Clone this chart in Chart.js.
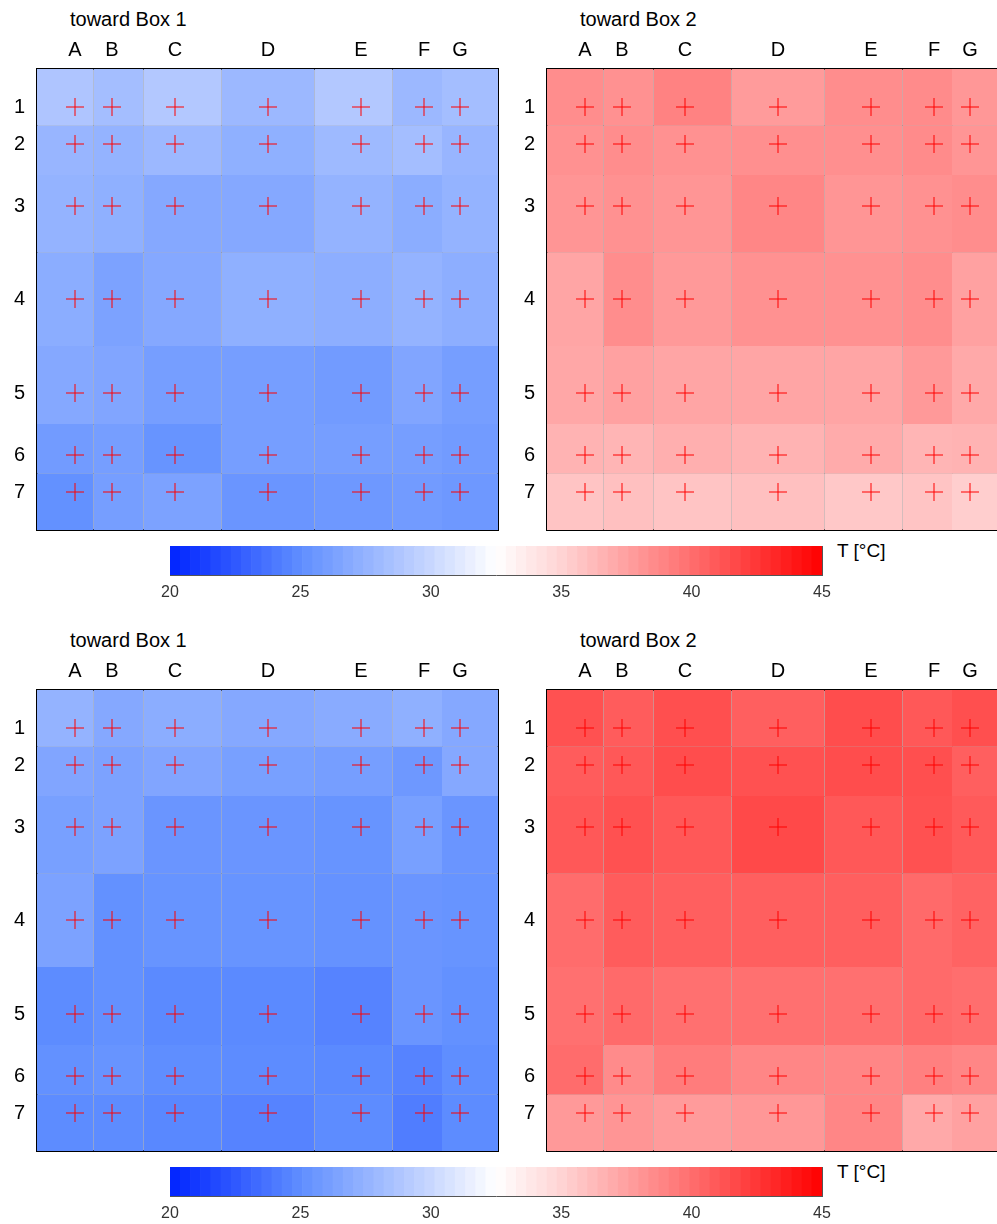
<!DOCTYPE html>
<html>
<head>
<meta charset="utf-8">
<script src="https://cdn.jsdelivr.net/npm/chart.js@4.4.1/dist/chart.umd.min.js"></script>
<style>
  html, body { margin: 0; padding: 0; width: 997px; height: 1224px; overflow: hidden; background: #fff; }
  body { position: relative; font-family: Arial, 'Liberation Sans', sans-serif; }
  canvas { position: absolute; }
  .title { position: absolute; font-size: 20px; line-height: 23px; color: #000; white-space: nowrap; }
  .unit { position: absolute; font-size: 19px; line-height: 22px; color: #000; white-space: nowrap; }
</style>
</head>
<body>
<div class="title" style="left:70px;top:8px">toward Box 1</div>
<div class="title" style="left:580px;top:8px">toward Box 2</div>
<div class="title" style="left:70px;top:629px">toward Box 1</div>
<div class="title" style="left:580px;top:629px">toward Box 2</div>
<div class="unit" style="left:837px;top:540px">T [°C]</div>
<div class="unit" style="left:837px;top:1161px">T [°C]</div>

<canvas id="topBox1" width="500" height="533" style="left:0;top:0"></canvas>
<canvas id="topBox2" width="500" height="533" style="left:510px;top:0"></canvas>
<canvas id="topBar" width="720" height="70" style="left:150px;top:536px"></canvas>
<canvas id="bottomBox1" width="500" height="533" style="left:0;top:621px"></canvas>
<canvas id="bottomBox2" width="500" height="533" style="left:510px;top:621px"></canvas>
<canvas id="bottomBar" width="720" height="70" style="left:150px;top:1157px"></canvas>

<script>
// sensor grid: columns A-G, rows 1-7, positions inside a 461-unit square box
const columns = ['A', 'B', 'C', 'D', 'E', 'F', 'G'];
const rows = ['1', '2', '3', '4', '5', '6', '7'];
const colPos = [38, 75, 138, 231, 324, 387, 423];
const rowPos = [38, 75, 137, 230, 324, 386, 423];
const boxSize = 461;

// temperatures [°C], one row per sensor row (1..7), columns A..G
const tempTopBox1 = [
  [28.8, 28.3, 29.0, 27.9, 29.0, 27.9, 28.3],
  [27.7, 27.5, 27.9, 27.3, 28.0, 28.3, 27.7],
  [27.5, 27.3, 26.8, 26.8, 27.5, 27.1, 27.5],
  [27.1, 26.4, 26.8, 27.3, 27.2, 27.5, 27.2],
  [26.8, 26.6, 26.1, 26.1, 25.9, 26.6, 26.1],
  [25.9, 26.1, 25.4, 26.1, 26.1, 26.1, 25.9],
  [25.2, 26.1, 26.4, 25.5, 25.7, 25.9, 25.7]
];
const tempTopBox2 = [
  [38.5, 38.3, 39.0, 37.8, 38.5, 38.6, 38.0],
  [38.3, 38.5, 38.3, 38.4, 38.4, 38.6, 38.1],
  [38.1, 38.3, 38.1, 38.8, 38.1, 38.3, 38.5],
  [37.3, 38.5, 37.9, 38.3, 38.3, 38.5, 37.5],
  [37.2, 37.5, 37.3, 37.3, 37.3, 37.9, 37.1],
  [36.6, 36.5, 36.8, 36.6, 37.0, 36.5, 36.6],
  [35.8, 36.0, 35.8, 36.0, 35.6, 35.8, 35.3]
];
const tempBottomBox1 = [
  [27.5, 26.8, 27.1, 26.8, 27.0, 27.3, 26.8],
  [26.6, 26.4, 26.6, 26.2, 26.1, 25.7, 26.8],
  [26.2, 26.4, 25.5, 25.5, 25.4, 26.2, 25.5],
  [26.4, 25.2, 25.4, 25.4, 25.3, 25.5, 25.4],
  [24.9, 25.2, 24.8, 24.8, 24.5, 25.5, 25.2],
  [25.2, 25.4, 25.0, 24.9, 24.8, 24.5, 25.0],
  [24.9, 24.9, 24.7, 24.5, 24.9, 24.2, 24.9]
];
const tempBottomBox2 = [
  [41.3, 40.8, 41.4, 40.7, 41.5, 41.0, 41.4],
  [40.8, 41.0, 41.5, 41.3, 41.5, 41.4, 40.7],
  [41.0, 41.3, 41.0, 41.7, 41.0, 41.3, 40.9],
  [40.1, 40.8, 40.7, 40.7, 40.7, 40.2, 40.5],
  [39.9, 40.2, 39.9, 39.9, 39.9, 40.2, 40.0],
  [40.1, 38.6, 39.3, 38.8, 38.8, 39.1, 38.8],
  [37.9, 38.1, 37.8, 38.0, 38.8, 37.1, 37.5]
];

// colour scale
const barTicks = [20, 25, 30, 35, 40, 45];
const cmapTemps = [20, 25, 30, 32.5, 35, 40, 45];
const cmapColors = [[0, 35, 255], [95, 142, 255], [200, 215, 255], [255, 255, 255],
                    [255, 212, 212], [255, 110, 110], [255, 0, 0]];
const barSteps = 64;

Chart.defaults.font.family = "Arial, 'Liberation Sans', sans-serif";
Chart.defaults.color = '#000';

function tempColor(t) {
  let k = 0;
  while (k < cmapTemps.length - 2 && t > cmapTemps[k + 1]) k++;
  const f = Math.min(1, Math.max(0, (t - cmapTemps[k]) / (cmapTemps[k + 1] - cmapTemps[k])));
  const c = cmapColors[k].map((v, i) => Math.round(v + f * (cmapColors[k + 1][i] - v)));
  return `rgb(${c[0]},${c[1]},${c[2]})`;
}

// cell edges halfway between neighbouring sensors
function edges(pos) {
  const e = [0];
  for (let i = 1; i < pos.length; i++) e.push((pos[i - 1] + pos[i]) / 2);
  e.push(boxSize);
  return e;
}

const plotLeft = 37, plotTop = 69;

// fixed axis size, and no extra room reserved for overhanging labels
function fixSize(prop, size) {
  return s => {
    s[prop] = typeof size === 'function' ? size() : size;
    s.paddingTop = s.paddingBottom = s.paddingLeft = s.paddingRight = 0;
  };
}

function heatmap(id, temps) {
  const canvas = document.getElementById(id);
  const xe = edges(colPos), ye = edges(rowPos);

  const datasets = [{
    type: 'scatter',
    order: 0,
    data: rowPos.flatMap(y => colPos.map(x => ({x, y}))),
    pointStyle: 'cross',
    pointRadius: 9,
    borderColor: '#ff0000',
    borderWidth: 1
  }];
  temps.forEach((row, j) => row.forEach((t, i) => {
    datasets.push({
      type: 'line',
      order: 1,
      data: [{x: xe[i], y: ye[j]}, {x: xe[i + 1], y: ye[j]}],
      fill: {value: ye[j + 1]},
      backgroundColor: tempColor(t),
      borderColor: 'rgba(0,0,0,0)',
      borderWidth: 0,
      pointRadius: 0
    });
  }));

  const frame = {display: true, color: '#000', width: 2};
  const cellGrid = {color: 'rgba(110,110,110,0.5)', lineWidth: 1, drawTicks: false};
  const labelFont = {size: 20};

  new Chart(canvas, {
    type: 'scatter',
    data: {datasets},
    options: {
      responsive: false,
      animation: false,
      devicePixelRatio: 1,
      events: [],
      layout: {autoPadding: false, padding: 0},
      plugins: {legend: {display: false}, tooltip: {enabled: false}},
      scales: {
        x: {
          type: 'linear', position: 'bottom', min: 0, max: boxSize, z: 1, offset: false,
          afterBuildTicks: s => { s.ticks = xe.slice(1, -1).map(value => ({value})); },
          ticks: {display: false},
          grid: cellGrid,
          border: frame,
          afterFit: fixSize('height', () => canvas.height - plotTop - boxSize)
        },
        x2: {
          type: 'linear', position: 'top', min: 0, max: boxSize, z: 1, offset: false,
          afterBuildTicks: s => { s.ticks = colPos.map(value => ({value})); },
          ticks: {callback: (v, i) => columns[i], font: labelFont, padding: 7, autoSkip: false, maxRotation: 0},
          grid: {display: false, drawTicks: false},
          border: frame,
          afterFit: fixSize('height', plotTop)
        },
        y: {
          type: 'linear', position: 'left', min: 0, max: boxSize, reverse: true, z: 1,
          afterBuildTicks: s => { s.ticks = rowPos.map(value => ({value})); },
          ticks: {callback: (v, i) => rows[i], font: labelFont, padding: 12, autoSkip: false},
          grid: {display: false, drawTicks: false},
          border: frame,
          afterFit: fixSize('width', plotLeft)
        },
        y2: {
          type: 'linear', position: 'right', min: 0, max: boxSize, reverse: true, z: 1,
          afterBuildTicks: s => { s.ticks = ye.slice(1, -1).map(value => ({value})); },
          ticks: {display: false},
          grid: cellGrid,
          border: frame,
          afterFit: fixSize('width', () => canvas.width - plotLeft - boxSize)
        }
      }
    }
  });
}

function colorbar(id) {
  const canvas = document.getElementById(id);
  const lo = barTicks[0], hi = barTicks[barTicks.length - 1];
  const step = (hi - lo) / barSteps;
  const bins = [];
  for (let k = 0; k < barSteps; k++) bins.push({x: [lo + k * step, lo + (k + 1) * step], y: 'T'});
  const edge = {display: true, color: '#555', width: 1};

  new Chart(canvas, {
    type: 'bar',
    data: {
      labels: ['T'],
      datasets: [{
        type: 'bar',
        indexAxis: 'y',
        xAxisID: 'x', yAxisID: 'y',
        data: bins,
        backgroundColor: bins.map(b => tempColor((b.x[0] + b.x[1]) / 2)),
        borderWidth: 0,
        barPercentage: 1,
        categoryPercentage: 1
      }, {
        type: 'scatter',
        xAxisID: 'x', yAxisID: 'yt',
        data: barTicks.slice(1, -1).map(x => ({x, y: 0.07})),
        pointStyle: 'line',
        rotation: 90,
        pointRadius: 2.5,
        borderColor: '#222',
        borderWidth: 1
      }]
    },
    options: {
      responsive: false,
      animation: false,
      devicePixelRatio: 1,
      events: [],
      layout: {autoPadding: false, padding: 0},
      plugins: {legend: {display: false}, tooltip: {enabled: false}},
      scales: {
        x: {
          type: 'linear', position: 'bottom', min: lo, max: hi, z: 1, offset: false,
          afterBuildTicks: s => { s.ticks = barTicks.map(value => ({value})); },
          ticks: {font: {size: 16}, color: '#333', padding: 8, maxRotation: 0},
          grid: {display: false, drawTicks: false},
          border: edge,
          afterFit: fixSize('height', 31)
        },
        xt: {
          type: 'linear', position: 'top', min: lo, max: hi, z: 1, offset: false,
          ticks: {display: false},
          grid: {display: false, drawTicks: false},
          border: edge,
          afterFit: fixSize('height', 10)
        },
        y: {
          type: 'category', labels: ['T'], position: 'left', z: 1, offset: true,
          ticks: {display: false},
          grid: {display: false, drawTicks: false},
          border: edge,
          afterFit: fixSize('width', 20)
        },
        yr: {
          type: 'linear', position: 'right', min: 0, max: 1, z: 1,
          ticks: {display: false},
          grid: {display: false, drawTicks: false},
          border: edge,
          afterFit: fixSize('width', 48)
        },
        yt: {type: 'linear', min: 0, max: 1, display: false}
      }
    }
  });
}

heatmap('topBox1', tempTopBox1);
heatmap('topBox2', tempTopBox2);
heatmap('bottomBox1', tempBottomBox1);
heatmap('bottomBox2', tempBottomBox2);
colorbar('topBar');
colorbar('bottomBar');
</script>
</body>
</html>
